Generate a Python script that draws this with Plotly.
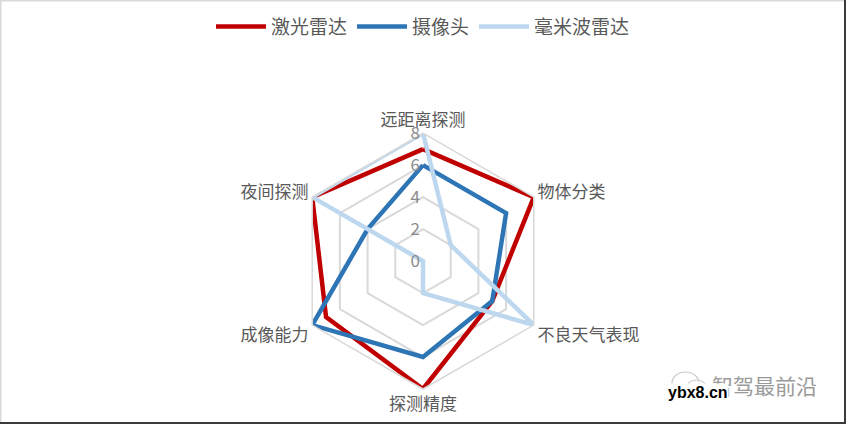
import plotly.graph_objects as go

categories = ['远距离探测', '物体分类', '不良天气表现', '探测精度', '成像能力', '夜间探测']
lidar = [7, 8, 5, 8, 7, 8]
camera = [6, 6, 5, 6, 8, 4]
mmwave = [8, 2, 8, 2, 0, 8]
series_names = ['激光雷达', '摄像头', '毫米波雷达']
colors = ['#C00000', '#2E75B6', '#BDD7EE']
radial_ticks = [0, 2, 4, 6, 8]

font_cn = 'Noto Sans CJK SC'
W, H = 846, 424

fig = go.Figure()
for name, vals, c in zip(series_names, [lidar, camera, mmwave], colors):
    # close the polygon
    fig.add_trace(go.Scatterpolar(
        r=vals + vals[:1], theta=categories + categories[:1],
        mode='lines', name=name,
        line=dict(color=c, width=4.5),
    ))

fig.update_layout(
    width=W, height=H,
    margin=dict(l=0, r=0, t=0, b=0),
    paper_bgcolor='white',
    font=dict(family=font_cn, color='#595959', size=16),
    showlegend=True,
    legend=dict(orientation='h', x=0.5, xanchor='center', y=0.982, yanchor='top',
                font=dict(size=19, color='#595959'), itemwidth=50, traceorder='normal'),
    polar=dict(
        domain=dict(x=[0.3487, 0.6513], y=[0.0825, 0.686]),
        gridshape='linear',
        bgcolor='white',
        angularaxis=dict(rotation=90, direction='clockwise', showgrid=False,
                         showline=True, linecolor='#d9d9d9', linewidth=1.5,
                         ticks='', tickfont=dict(size=17, color='#595959')),
        radialaxis=dict(range=[0, 8], tickvals=radial_ticks, angle=90, tickangle=90,
                        side='counterclockwise', showline=False, ticks='',
                        gridcolor='#d9d9d9', gridwidth=1.5,
                        tickfont=dict(size=17, color='#8c8c8c')),
    ),
)

# chart frame
fig.add_shape(type='line', xref='paper', yref='paper', x0=0, x1=1, y0=1, y1=1,
              line=dict(color='#d9d9d9', width=3))
fig.add_shape(type='line', xref='paper', yref='paper', x0=0, x1=0, y0=0, y1=1,
              line=dict(color='#d9d9d9', width=3))
fig.add_shape(type='line', xref='paper', yref='paper', x0=0, x1=1, y0=0, y1=0,
              line=dict(color='#3a3a3a', width=4))
fig.add_shape(type='line', xref='paper', yref='paper', x0=1, x1=1, y0=0, y1=1,
              line=dict(color='#3a3a3a', width=4))

# watermark: wechat-like icon (two bubbles), name, site
def px_circle(x0, y0, x1, y1):
    fig.add_shape(type='circle', xref='paper', yref='paper',
                  x0=x0 / W, x1=x1 / W, y0=1 - y1 / H, y1=1 - y0 / H,
                  line=dict(color='#c8c8c8', width=1.2), fillcolor='rgba(255,255,255,0.6)')

px_circle(672, 372, 699, 394)
px_circle(686, 380, 707, 398)

fig.add_annotation(xref='paper', yref='paper', x=0.968, y=0.092, xanchor='right', yanchor='middle',
                   text='智驾最前沿', showarrow=False,
                   font=dict(size=21, color='#9a9a9a', family=font_cn))
fig.add_annotation(xref='paper', yref='paper', x=0.789, y=0.075, xanchor='left', yanchor='middle',
                   text='<b>ybx8.cn</b>', showarrow=False, bgcolor='white',
                   font=dict(size=16, color='black', family='Arial'), borderpad=0)

fig.write_html('out.html', post_script="document.body.style.margin='0';",
               config={'displayModeBar': False})
